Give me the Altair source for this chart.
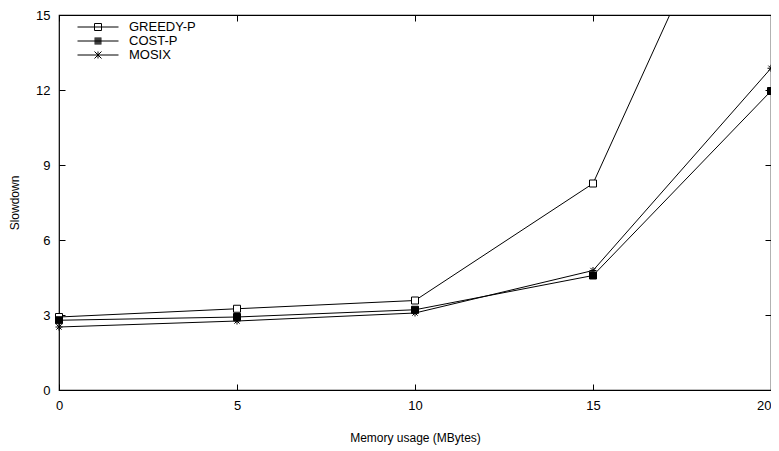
import altair as alt
import pandas as pd

x_vals = [0, 5, 10, 15, 20]
series_names = ["GREEDY-P", "COST-P", "MOSIX"]
greedy = [2.92, 3.25, 3.58, 8.26, 23.9]
cost = [2.79, 2.92, 3.21, 4.58, 11.96]
mosix = [2.52, 2.76, 3.08, 4.78, 12.87]
x_ticks = [0, 5, 10, 15, 20]
y_ticks = [0, 3, 6, 9, 12, 15]

rows = []
for name, ys in zip(series_names, [greedy, cost, mosix]):
    for xv, yv in zip(x_vals, ys):
        rows.append({"x": xv, "y": yv, "series": name})
df = pd.DataFrame(rows)

FONT = "Liberation Sans"
ast = "M-1,0H1M0,-1V1M-0.75,-0.75L0.75,0.75M-0.75,0.75L0.75,-0.75"

# legend symbol paths: symbolSize 169 -> 1 path unit = 6.5px
k = 6.5
u = 1 / k
L = 20.5 * u
m = 3.5 * u
sq = f"M-{m:.4f},-{m:.4f}H{m:.4f}V{m:.4f}H-{m:.4f}Z"
fill_sq = "".join(f"M-{m:.4f},{(-3 + i) * u:.4f}H{m:.4f}" for i in range(7))
line = f"M-{L:.4f},0H{L:.4f}"
a = 3.5 * u
ast_small = f"M0,-{a:.4f}V{a:.4f}M-{a:.4f},-{a:.4f}L{a:.4f},{a:.4f}M-{a:.4f},{a:.4f}L{a:.4f},-{a:.4f}"

x_enc_bottom = alt.X("x:Q", scale=alt.Scale(domain=[0, 20], nice=False),
                     axis=alt.Axis(orient="bottom", values=x_ticks, title="Memory usage (MBytes)",
                                   offset=-6, tickSize=6, domain=False, grid=False,
                                   labelPadding=9, titlePadding=20, labelFlush=False,
                                   labelAlign={"condition": {"test": "datum.value == 20", "value": "right"},
                                               "value": "center"}))
y_enc_left = alt.Y("y:Q", scale=alt.Scale(domain=[0, 15], nice=False),
                   axis=alt.Axis(orient="left", values=y_ticks, title="Slowdown",
                                 offset=-6, tickSize=6, domain=False, grid=False,
                                 labelPadding=9, titlePadding=14, labelFlush=False))
x_enc_top = alt.X("x:Q", scale=alt.Scale(domain=[0, 20], nice=False),
                  axis=alt.Axis(orient="top", values=x_ticks, title=None, labels=False,
                                offset=-6, tickSize=6, domain=False, grid=False))
y_enc_right = alt.Y("y:Q", scale=alt.Scale(domain=[0, 15], nice=False),
                    axis=alt.Axis(orient="right", values=y_ticks, title=None, labels=False,
                                  offset=-6, tickSize=6, domain=False, grid=False))

lines = alt.Chart(df).mark_line(color="black", strokeWidth=1, clip=True).encode(
    x=x_enc_bottom, y=y_enc_left, detail="series:N"
)

points = alt.Chart(df).transform_filter("datum.y <= 15").mark_point(
    stroke="black", strokeWidth=1, filled=False, size=49, opacity=1
).encode(
    x=x_enc_top, y=y_enc_right,
    shape=alt.Shape("series:N", scale=alt.Scale(domain=series_names, range=["square", "square", ast]),
                    legend=None),
    fill=alt.Fill("series:N", scale=alt.Scale(domain=series_names, range=["white", "black", "transparent"]),
                  legend=None),
)

legend_layer = alt.Chart(df).transform_filter("false").mark_point(
    stroke="black", strokeWidth=1, filled=False, clip=True
).encode(
    x=alt.X("x:Q", axis=None), y=alt.Y("y:Q", axis=None),
    shape=alt.Shape("series2:N", scale=alt.Scale(domain=series_names,
                                                 range=[line + sq, line + fill_sq, line + ast_small]),
                    legend=alt.Legend(title=None, orient="none", legendX=32, legendY=5,
                                      symbolSize=169, symbolStrokeWidth=1, symbolStrokeColor="black",
                                      symbolFillColor="transparent", symbolOpacity=1,
                                      labelFont=FONT, labelFontSize=13,
                                      labelOffset=24, rowPadding=0, labelColor="black")),
)

chart = alt.layer(lines, points, legend_layer).resolve_scale(
    shape="independent", fill="independent"
).resolve_axis(x="independent", y="independent").properties(
    width=712, height=375,
    background="white",
    autosize=alt.AutoSizeParams(type="none"),
    padding={"left": 51, "top": 7, "right": 0, "bottom": 60},
).configure_view(stroke="black", strokeWidth=1.2).configure_axis(
    labelFont=FONT, titleFont=FONT, labelFontSize=13, titleFontSize=12,
    titleFontWeight="normal", tickColor="black", labelColor="black", titleColor="black"
)

chart.save("out.html", embed_options={"renderer": "svg", "actions": False})
